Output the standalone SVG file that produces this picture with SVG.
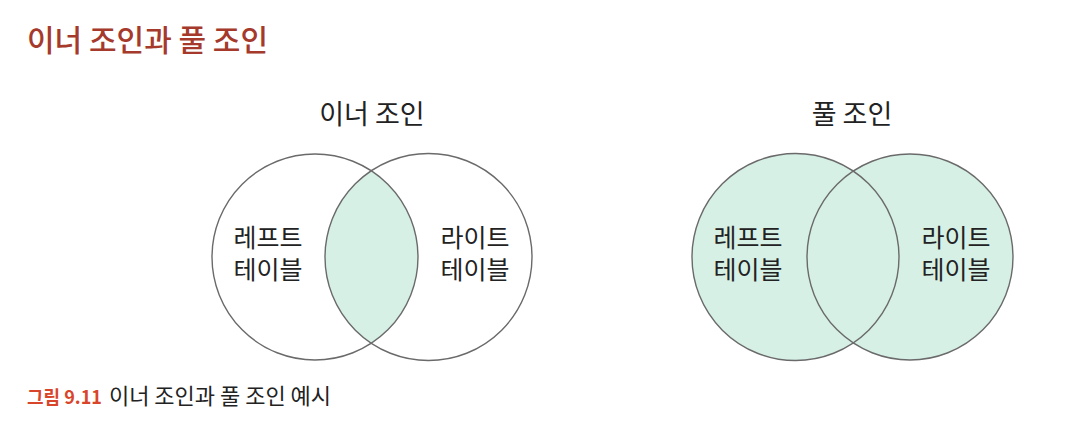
<svg xmlns="http://www.w3.org/2000/svg" width="1086" height="434" viewBox="0 0 1086 434">
<style>
text{font-family:"Noto Sans CJK KR","Noto Sans",sans-serif;}
.lbl{font-size:25px;fill:#222;text-anchor:middle;}
.hd{font-size:27px;fill:#222;text-anchor:middle;}
.c{fill:none;stroke:#6a6a6a;stroke-width:1.4;}
.f{fill:#d6f0e6;}
</style>
<defs>
<clipPath id="clipL"><circle cx="315" cy="257" r="103"/></clipPath>
</defs>
<rect width="1086" height="434" fill="#fff"/>
<text x="27" y="51" style="font-size:30px;fill:#a53a2c;font-weight:500">이너 조인과 풀 조인</text>
<g id="inner-join">
<text class="hd" x="372" y="124">이너 조인</text>
<circle class="f" cx="428.5" cy="257" r="103.5" clip-path="url(#clipL)"/>
<circle id="inner-left" class="c" cx="315" cy="257" r="103"/>
<circle id="inner-right" class="c" cx="428.5" cy="257" r="103.5"/>
<text class="lbl" x="268" y="247">레프트</text>
<text class="lbl" x="268" y="279">테이블</text>
<text class="lbl" x="475" y="247">라이트</text>
<text class="lbl" x="475" y="279">테이블</text>
</g>
<g id="full-join">
<text class="hd" x="852" y="124">풀 조인</text>
<circle class="f" cx="795.5" cy="257" r="103.5"/>
<circle class="f" cx="910" cy="257" r="103"/>
<circle id="full-left" class="c" cx="795.5" cy="257" r="103.5"/>
<circle id="full-right" class="c" cx="910" cy="257" r="103"/>
<text class="lbl" x="748" y="247">레프트</text>
<text class="lbl" x="748" y="279">테이블</text>
<text class="lbl" x="956" y="247">라이트</text>
<text class="lbl" x="956" y="279">테이블</text>
</g>
<g id="connectors"></g>
<text x="27" y="404" style="font-size:18px"><tspan fill="#d9452b" font-weight="700">그림 9.11</tspan><tspan fill="#222" dx="7" font-size="22">이너 조인과 풀 조인 예시</tspan></text>
</svg>
